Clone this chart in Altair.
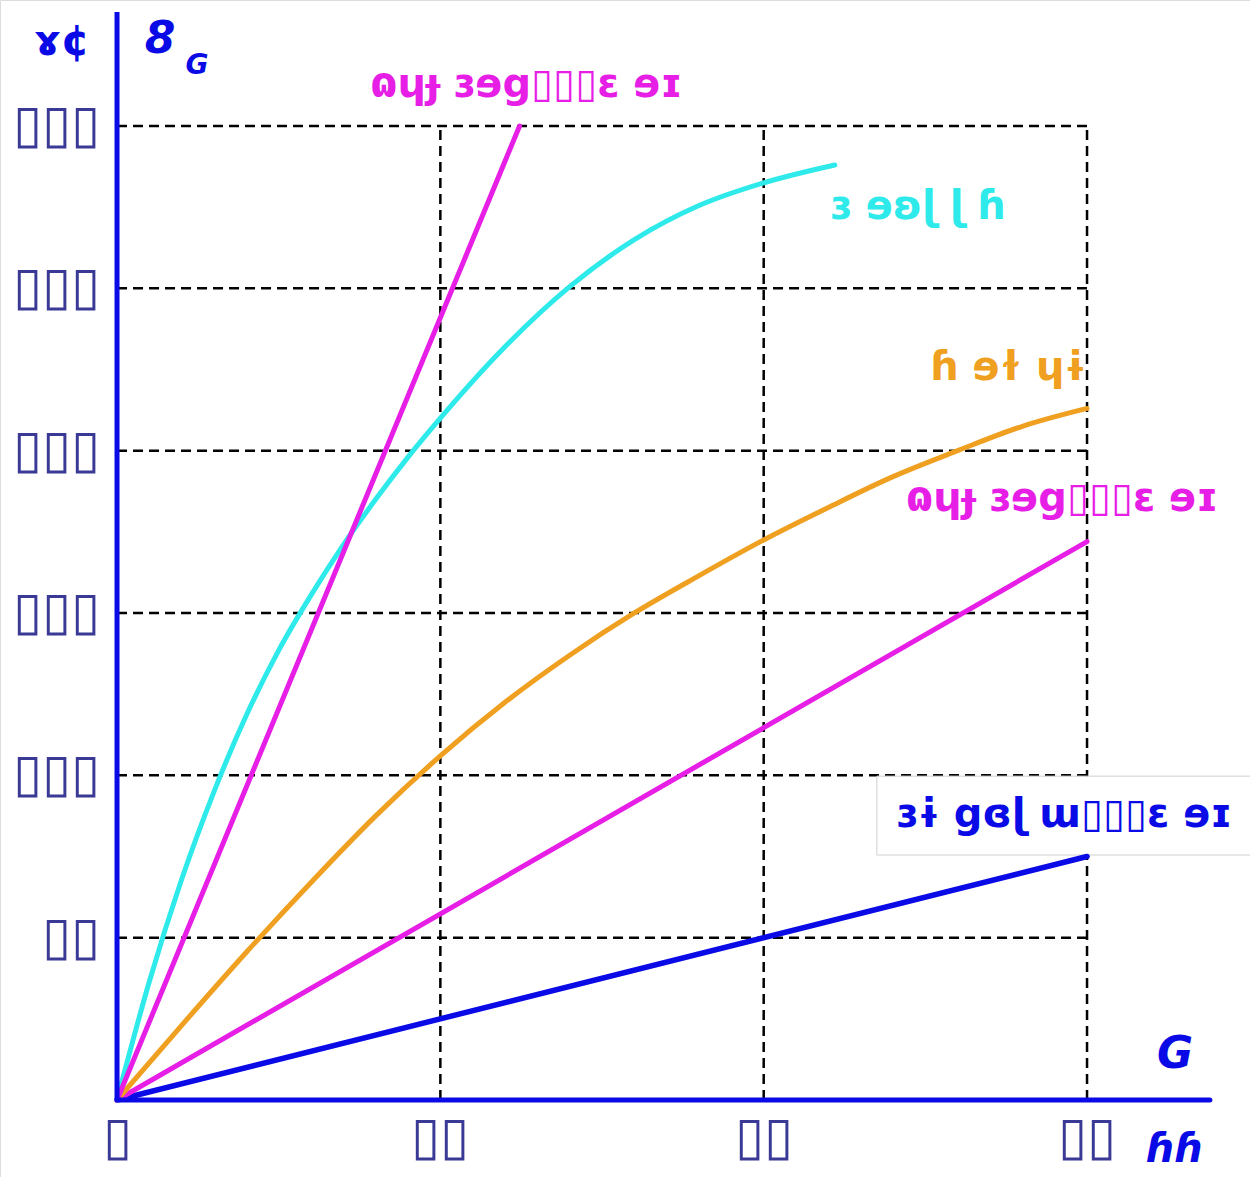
import altair as alt
import pandas as pd

# ---- data -------------------------------------------------------------
# strain axis (x) and stress axis (y) ticks
x_ticks = [0, 10, 20, 30]
x_tick_labels = ["▯", "▯▯", "▯▯", "▯▯"]
y_ticks = [100, 200, 300, 400, 500, 600]
y_tick_labels = ["▯▯", "▯▯▯", "▯▯▯", "▯▯▯", "▯▯▯", "▯▯▯"]

# straight steep line
steep_x = [0, 12.45]
steep_y = [0, 600]

# curved upper line
cyan_x = [0, 1, 2, 3, 4, 5, 6, 7, 8, 9, 10, 12, 14, 16, 18, 20, 22.2]
cyan_y = [0, 73, 136, 190, 237, 277, 311, 342, 370, 396, 420, 464, 501, 530, 551, 565, 576]

# curved middle line
orange_x = [0, 2, 4, 6, 8, 10, 12, 14, 16, 18, 20, 22, 24, 26, 28, 30]
orange_y = [0, 46, 91, 134, 175, 212, 245, 274, 300, 323, 345, 365, 384, 400, 415, 426]

# straight lower lines
mid_x = [0, 30]
mid_y = [0, 344]
low_x = [0, 30]
low_y = [0, 150]

label_steep = "ɷɥɟ ɜɘg▯▯▯ɛ ɘɪ"
label_cyan = "ɜ ɘʚɭ ɭ ɦ"
label_orange = "ɦ ɘɫ ɥɨ"
label_mid = "ɷɥɟ ɜɘg▯▯▯ɛ ɘɪ"
label_low = "ɜɨ gɞɭ ɯ▯▯▯ɛ ɘɪ"
y_title = "ɤ¢"
y_symbol = "8"
y_symbol_sub = "G"
x_title = "G"
x_unit = "ɦɦ"

W, H = 1250, 1177
X_DOM = [-3.619, 35.04]
Y_DOM = [-47.43, 677.6]

MAGENTA = "#e61ee6"
CYAN = "#2eeaea"
ORANGE = "#f0a020"
BLUE = "#0a0ae6"
TICK = "#3a3a96"
FONT = "DejaVu Sans"

xs = alt.Scale(domain=X_DOM, nice=False, zero=False)
ys = alt.Scale(domain=Y_DOM, nice=False, zero=False)


def X(v):
    return alt.X(v, type="quantitative", scale=xs, axis=None)


def Y(v):
    return alt.Y(v, type="quantitative", scale=ys, axis=None)


# ---- grid -------------------------------------------------------------
hgrid = alt.Chart(pd.DataFrame({"y": y_ticks, "x": 0, "x2": 30})).mark_rule(
    color="black", strokeWidth=2.5, strokeDash=[10, 6]
).encode(y=Y("y"), x=X("x"), x2="x2")

vgrid = alt.Chart(pd.DataFrame({"x": x_ticks[1:], "y": 0, "y2": 600})).mark_rule(
    color="black", strokeWidth=2.5, strokeDash=[10, 6]
).encode(x=X("x"), y=Y("y"), y2="y2")

# white label box at the lower right
box = alt.Chart(pd.DataFrame({"x": [23.5], "x2": [35.5], "y": [199.5], "y2": [150.9]})).mark_rect(
    fill="white", stroke="#d0d0d0", strokeWidth=1
).encode(x=X("x"), x2="x2", y=Y("y"), y2="y2")


# ---- curves -----------------------------------------------------------
def curve(xv, yv, color, interp="linear", width=5):
    df = pd.DataFrame({"x": xv, "y": yv})
    return alt.Chart(df).mark_line(
        color=color, strokeWidth=width, interpolate=interp, strokeCap="round"
    ).encode(x=X("x"), y=Y("y"))


lines = [
    curve(low_x, low_y, BLUE, width=5.5),
    curve(mid_x, mid_y, MAGENTA),
    curve(orange_x, orange_y, ORANGE, "monotone"),
    curve(cyan_x, cyan_y, CYAN, "monotone"),
    curve(steep_x, steep_y, MAGENTA),
]

# ---- axes -------------------------------------------------------------
y_axis = alt.Chart(pd.DataFrame({"x": [0], "y": [0], "y2": [670.2]})).mark_rule(
    color=BLUE, strokeWidth=5
).encode(x=X("x"), y=Y("y"), y2="y2")
x_axis = alt.Chart(pd.DataFrame({"x": [0], "x2": [33.8], "y": [0]})).mark_rule(
    color=BLUE, strokeWidth=5, strokeCap="round"
).encode(x=X("x"), x2="x2", y=Y("y"))

ytick_text = alt.Chart(pd.DataFrame({"y": y_ticks, "x": 0, "t": y_tick_labels})).mark_text(
    align="right", baseline="middle", font=FONT, fontSize=53, fontWeight=200,
    color=TICK, dx=-17
).encode(x=X("x"), y=Y("y"), text="t:N")

xtick_text = alt.Chart(pd.DataFrame({"x": x_ticks, "y": 0, "t": x_tick_labels})).mark_text(
    align="center", baseline="middle", font=FONT, fontSize=53, fontWeight=200,
    color=TICK, dy=38
).encode(x=X("x"), y=Y("y"), text="t:N")


def label(text, x, y, color, size=40, align="left", style="normal", weight="bold"):
    df = pd.DataFrame({"x": [x], "y": [y], "t": [text]})
    return alt.Chart(df).mark_text(
        align=align, baseline="middle", font=FONT, fontSize=size,
        fontWeight=weight, fontStyle=style, color=color
    ).encode(x=X("x"), y=Y("y"), text="t:N")


labels = [
    label(label_steep, 7.83, 625, MAGENTA),
    label(label_cyan, 22.05, 550, CYAN),
    label(label_orange, 25.15, 451, ORANGE),
    label(label_mid, 24.4, 370, MAGENTA),
    label(label_low, 24.1, 175.6, BLUE),
    label(y_title, -1.7, 652, BLUE, size=42, align="center"),
    label(y_symbol, 1.33, 653, BLUE, size=44, align="center", style="italic"),
    label(y_symbol_sub, 2.47, 637, BLUE, size=28, align="center", style="italic"),
    label(x_title, 32.72, 27.7, BLUE, size=44, align="center", style="italic"),
    label(x_unit, 32.72, -31, BLUE, size=40, align="center", style="italic"),
]

chart = alt.layer(
    hgrid, vgrid, box, *lines, y_axis, x_axis, ytick_text, xtick_text, *labels
).properties(
    width=W, height=H, autosize=alt.AutoSizeParams(type="none"), padding=0
).configure_view(stroke=None).configure(background="white")

chart.save("out.html", embed_options={"renderer": "svg", "actions": False})
